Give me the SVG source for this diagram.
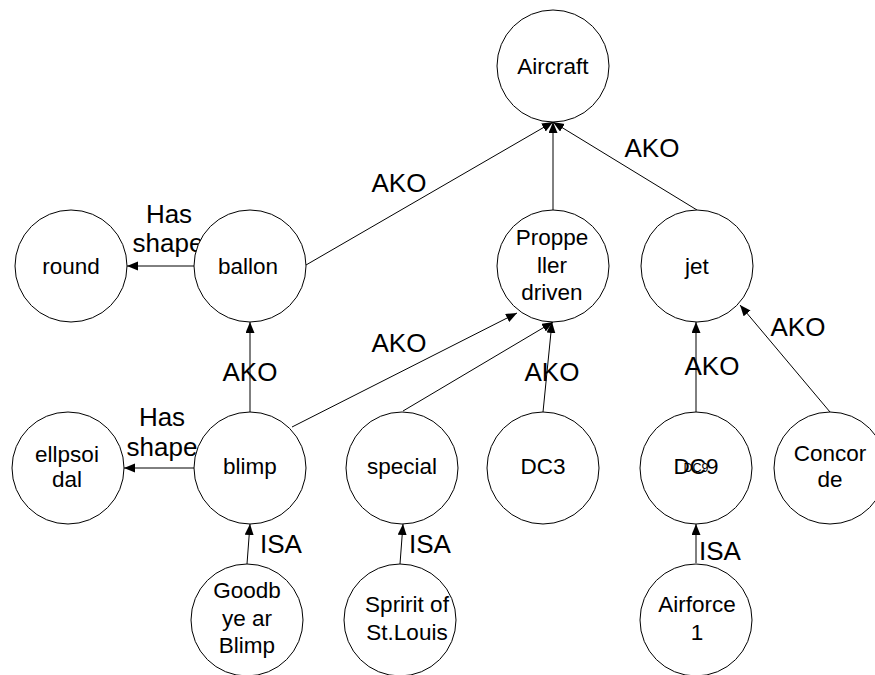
<svg xmlns="http://www.w3.org/2000/svg" width="875" height="675" viewBox="0 0 875 675">
<style>
.n{fill:#fff;stroke:#000;stroke-width:1}
.t{font-family:"Liberation Sans",Arial,sans-serif;font-size:22.5px;text-anchor:middle;fill:#000}
.s{font-family:"Liberation Sans",Arial,sans-serif;font-size:12.5px;text-anchor:middle;fill:#000}
.l{font-family:"Liberation Sans",Arial,sans-serif;font-size:26px;text-anchor:middle;fill:#000}
.e{stroke:#000;stroke-width:1;fill:none;marker-end:url(#ah)}
</style>
<defs>
<marker id="ah" markerUnits="userSpaceOnUse" markerWidth="12" markerHeight="10" refX="11" refY="4.5" orient="auto">
<path d="M0,0 L11,4.5 L0,9 z" fill="#000"/>
</marker>
</defs>
<rect width="875" height="675" fill="#fff"/>
<g id="connectors">
<line class="e" x1="306" y1="265" x2="553" y2="122"/>
<line class="e" x1="553" y1="210" x2="553" y2="122"/>
<line class="e" x1="697" y1="210" x2="553" y2="122"/>
<line class="e" x1="194" y1="266" x2="127" y2="266"/>
<line class="e" x1="250" y1="412" x2="250" y2="322"/>
<line class="e" x1="194" y1="468" x2="124" y2="468"/>
<line class="e" x1="292" y1="427" x2="517" y2="313"/>
<line class="e" x1="403" y1="411" x2="553" y2="322"/>
<line class="e" x1="543" y1="412" x2="552" y2="322"/>
<line class="e" x1="696" y1="412" x2="696" y2="322"/>
<line class="e" x1="830" y1="412" x2="740" y2="305"/>
<line class="e" x1="247" y1="564" x2="250" y2="524"/>
<line class="e" x1="400" y1="564" x2="403" y2="524"/>
<line class="e" x1="696" y1="563" x2="696" y2="524"/>
<text class="l" x="399" y="192">AKO</text>
<text class="l" x="652" y="157">AKO</text>
<text class="l" x="169" y="223">Has</text>
<text class="l" x="168" y="252">shape</text>
<text class="l" x="162" y="426">Has</text>
<text class="l" x="162" y="456">shape</text>
<text class="l" x="250" y="381">AKO</text>
<text class="l" x="399" y="352">AKO</text>
<text class="l" x="552" y="381">AKO</text>
<text class="l" x="712" y="375">AKO</text>
<text class="l" x="798" y="336">AKO</text>
<text class="l" x="281" y="553">ISA</text>
<text class="l" x="430" y="553">ISA</text>
<text class="l" x="720" y="560">ISA</text>
</g>
<g id="aircraft"><circle class="n" cx="553" cy="66" r="56"/><text class="t" x="553" y="74">Aircraft</text></g>
<g id="round"><circle class="n" cx="71" cy="266" r="56"/><text class="t" x="71" y="274">round</text></g>
<g id="ballon"><circle class="n" cx="250" cy="266" r="56"/><text class="t" x="248" y="274">ballon</text></g>
<g id="propeller"><circle class="n" cx="553" cy="266" r="56"/><text class="t" x="552" y="245">Proppe</text><text class="t" x="552" y="273">ller</text><text class="t" x="552" y="300">driven</text></g>
<g id="jet"><circle class="n" cx="697" cy="266" r="56"/><text class="t" x="697" y="274">jet</text></g>
<g id="ellpsoidal"><circle class="n" cx="68" cy="468" r="56"/><text class="t" x="67" y="462">ellpsoi</text><text class="t" x="67" y="487">dal</text></g>
<g id="blimp"><circle class="n" cx="250" cy="468" r="56"/><text class="t" x="250" y="474">blimp</text></g>
<g id="special"><circle class="n" cx="402" cy="468" r="56"/><text class="t" x="402" y="474">special</text></g>
<g id="dc3"><circle class="n" cx="543" cy="468" r="56"/><text class="t" x="543" y="474">DC3</text></g>
<g id="dc9"><circle class="n" cx="696" cy="468" r="56"/><text class="t" x="696" y="474">DC9</text><text class="s" x="696" y="472">DC9</text></g>
<g id="concorde"><circle class="n" cx="830" cy="468" r="56"/><text class="t" x="830" y="461">Concor</text><text class="t" x="830" y="487">de</text></g>
<g id="goodbye"><circle class="n" cx="247" cy="620" r="56"/><text class="t" x="247" y="598">Goodb</text><text class="t" x="247" y="626">ye ar</text><text class="t" x="247" y="653">Blimp</text></g>
<g id="spirit"><circle class="n" cx="400" cy="620" r="56"/><text class="t" x="407" y="612">Spririt of</text><text class="t" x="407" y="640">St.Louis</text></g>
<g id="airforce"><circle class="n" cx="696" cy="620" r="56"/><text class="t" x="697" y="612">Airforce</text><text class="t" x="697" y="640">1</text></g>
</svg>
